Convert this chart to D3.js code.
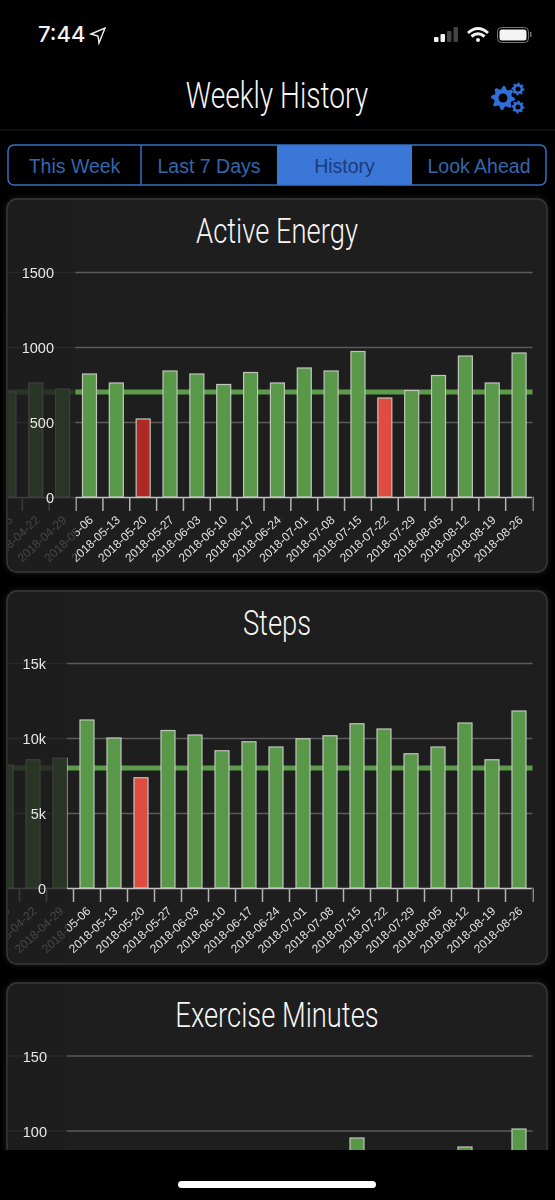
<!DOCTYPE html>
<html>
<head>
<meta charset="utf-8">
<title>Weekly History</title>
<script src="https://cdn.jsdelivr.net/npm/d3@7"></script>
<style>
  html, body { margin: 0; padding: 0; background: #000; }
  svg { display: block; }
  text { font-family: "Liberation Sans", sans-serif; }
  .narrow { font-family: Roboto, sans-serif; font-weight: 300; fill: #f6f6f6; text-anchor: middle; }
  .seg { font-size: 19.5px; text-anchor: middle; fill: #3467ad; }
</style>
</head>
<body>
<svg id="screen" width="555" height="1200"></svg>
<script>
// data
var weeks = ['2018-04-15', '2018-04-22', '2018-04-29', '2018-05-06', '2018-05-13', '2018-05-20', '2018-05-27',
  '2018-06-03', '2018-06-10', '2018-06-17', '2018-06-24', '2018-07-01', '2018-07-08', '2018-07-15',
  '2018-07-22', '2018-07-29', '2018-08-05', '2018-08-12', '2018-08-19', '2018-08-26'];
var energyValues = [700, 760, 720, 820, 760, 520, 840, 820, 750, 830, 760, 860, 840, 970, 660, 710, 810, 940, 760, 960];
var stepsValues = [8200, 8550, 8650, 11200, 10000, 7350, 10500, 10200, 9150, 9750, 9400, 9950, 10150, 10950, 10600, 8950, 9400, 11000, 8550, 11800];
// only the last weeks are readable above the screen edge, the others are estimates
var exerciseValues = [50, 55, 60, 70, 60, 40, 65, 60, 55, 70, 60, 75, 70, 95, 50, 65, 75, 89, 70, 101];
var energyTicks = [0, 500, 1000, 1500];
var stepsTicks = [0, 5000, 10000, 15000];
var exerciseTicks = [0, 50, 100, 150];
var segments = ['This Week', 'Last 7 Days', 'History', 'Look Ahead'];

var svg = d3.select('#screen');
var kFormat = function(d) { return d === 0 ? '0' : (d / 1000) + 'k'; };

var defs = svg.append('defs');
defs.append('filter').attr('id', 'glow').attr('x', '-5%').attr('y', '-5%').attr('width', '110%').attr('height', '110%')
  .append('feGaussianBlur').attr('stdDeviation', 3);

// the condensed titles: squeeze a light face sideways
var condensedTitle = function(parent, label, cx, baseline, size) {
  return parent.append('text').attr('class', 'narrow')
    .attr('transform', 'translate(' + cx + ',' + baseline + ') scale(0.76,1)')
    .attr('font-size', size).text(label);
};

var drawPanel = function(o) {
  var panelLeft = 7, panelRight = 547, panelHeight = 373;
  var g = svg.append('g').attr('transform', 'translate(0,' + o.top + ')');

  g.append('rect').attr('x', panelLeft - 1).attr('y', -1).attr('width', panelRight - panelLeft + 2)
    .attr('height', panelHeight + 2).attr('rx', 11).attr('fill', '#3c3c3c').attr('filter', 'url(#glow)').attr('opacity', 0.5);
  g.append('rect').attr('x', panelLeft).attr('y', 0).attr('width', panelRight - panelLeft).attr('height', panelHeight)
    .attr('rx', 10).attr('fill', '#1e1e1e').attr('stroke', '#383838').attr('stroke-width', 1.5);

  condensedTitle(g, o.title, 277, 44, 36);

  var clipId = 'clip' + o.top;
  defs.append('clipPath').attr('id', clipId).append('rect')
    .attr('x', panelLeft + 1).attr('y', 1).attr('rx', 9).attr('width', panelRight - panelLeft - 2).attr('height', panelHeight - 2);
  var plot = g.append('g').attr('clip-path', 'url(#' + clipId + ')').attr('opacity', 0.995);

  var right = 532.5;
  var x = d3.scaleBand().domain(weeks).range([right - weeks.length * o.step, right]);
  var y = d3.scaleLinear().domain([0, 1500 * o.unit]).range([o.zero, o.zero - 225]);
  var barWidth = 14;

  var grid = plot.append('g').attr('transform', 'translate(' + right + ',0)')
    .call(d3.axisLeft(y).tickValues(o.ticks.slice(1)).tickSize(right - x.range()[0]).tickFormat(''));
  grid.select('.domain').remove();
  grid.selectAll('line').attr('stroke', '#5c5c5c').attr('stroke-width', 1.5);

  plot.append('line').attr('x1', x.range()[0]).attr('x2', right)
    .attr('y1', y(o.target)).attr('y2', y(o.target))
    .attr('stroke', '#5c9c4a').attr('stroke-width', 5);

  plot.selectAll('.bar').data(o.values).enter().append('rect')
    .attr('class', 'bar')
    .attr('x', function(d, i) { return x(weeks[i]) + (x.bandwidth() - barWidth) / 2; })
    .attr('y', function(d) { return y(d); })
    .attr('width', barWidth)
    .attr('height', function(d) { return y(0) - y(d); })
    .attr('fill', function(d) {
      if (d >= o.target) return '#5a9a4a';
      return d < o.target * 0.75 ? '#b02a24' : '#e04e40';
    })
    .attr('stroke', '#c2c8be').attr('stroke-width', 1.2);

  var xAxis = plot.append('g').attr('transform', 'translate(0,' + y(0) + ')')
    .call(d3.axisBottom(x).tickSizeOuter(0).tickSize(14));
  xAxis.select('.domain').attr('stroke', '#c8c8c8').attr('stroke-width', 1.5);
  xAxis.selectAll('.tick line')
    .attr('x1', -o.step / 2).attr('x2', -o.step / 2)
    .attr('stroke', '#b4b4b4').attr('stroke-width', 1.5);
  xAxis.selectAll('.tick text')
    .attr('font-size', 12).attr('fill', '#e2e2e2').attr('text-anchor', 'end')
    .attr('x', 0).attr('y', 0).attr('dy', 0)
    .attr('transform', 'translate(4.5,24) rotate(-43)');
  plot.append('line').attr('x1', right).attr('x2', right).attr('y1', y(0)).attr('y2', y(0) + 14)
    .attr('stroke', '#4a4a4a').attr('stroke-width', 1.5);

  // weeks scrolled under the y axis are dimmed
  plot.append('rect').attr('x', panelLeft).attr('y', 0).attr('width', o.edge - panelLeft).attr('height', panelHeight)
    .attr('fill', '#1e1e1e').attr('opacity', 0.8);

  var yAxis = g.append('g').attr('transform', 'translate(' + o.labelRight + ',0)')
    .call(d3.axisLeft(y).tickValues(o.ticks).tickSize(0).tickPadding(0).tickFormat(o.format));
  yAxis.select('.domain').remove();
  yAxis.selectAll('text').attr('font-size', 14.5).attr('fill', '#e6e6e6').attr('dy', '0.38em');
};

drawPanel({ top: 199, title: 'Active Energy', values: energyValues, ticks: energyTicks, target: 700, unit: 1,
  zero: 298, step: 26.85, edge: 75.5, labelRight: 54, format: d3.format('d') });
drawPanel({ top: 591, title: 'Steps', values: stepsValues, ticks: stepsTicks, target: 8000, unit: 10,
  zero: 297, step: 27, edge: 67, labelRight: 46, format: kFormat });
drawPanel({ top: 983, title: 'Exercise Minutes', values: exerciseValues, ticks: exerciseTicks, target: 30, unit: 0.1,
  zero: 297.5, step: 27, edge: 67, labelRight: 47, format: d3.format('d') });

// top bar
svg.append('rect').attr('width', 555).attr('height', 192).attr('fill', '#000');
svg.append('rect').attr('y', 1150).attr('width', 555).attr('height', 50).attr('fill', '#000');
svg.append('rect').attr('x', 178).attr('y', 1181).attr('width', 198).attr('height', 7).attr('rx', 3.5).attr('fill', '#fff');

svg.append('text').attr('x', 38).attr('y', 42).attr('font-size', 22).attr('fill', '#f2f2f2')
  .style('font-family', 'Inter, sans-serif').attr('font-weight', 500).text('7:44');
svg.append('path').attr('d', 'M91 34 L105 28 L99 43 L98 36 Z').attr('fill', 'none').attr('stroke', '#eee').attr('stroke-width', 1.4);

var signal = svg.append('g');
[5, 8, 11, 15].forEach(function(h, i) {
  signal.append('rect').attr('x', 434 + i * 6.5).attr('y', 42 - h).attr('width', 4.5).attr('height', h)
    .attr('rx', 1).attr('fill', i < 2 ? '#f2f2f2' : '#444');
});
svg.append('path')
  .attr('d', 'M468 33 Q478 24 488 33 M471.5 36.5 Q478 31 484.5 36.5')
  .attr('fill', 'none').attr('stroke', '#f2f2f2').attr('stroke-width', 3);
svg.append('circle').attr('cx', 478).attr('cy', 40).attr('r', 2).attr('fill', '#f2f2f2');
svg.append('rect').attr('x', 497.5).attr('y', 27.5).attr('width', 31).attr('height', 15).attr('rx', 4)
  .attr('fill', 'none').attr('stroke', '#777').attr('stroke-width', 1);
svg.append('rect').attr('x', 499.5).attr('y', 29.5).attr('width', 27).attr('height', 11).attr('rx', 2.5).attr('fill', '#f4f4f4');
svg.append('rect').attr('x', 530).attr('y', 32).attr('width', 1.5).attr('height', 5).attr('fill', '#777');

condensedTitle(svg, 'Weekly History', 277, 108, 37);
svg.append('line').attr('x1', 0).attr('x2', 555).attr('y1', 130).attr('y2', 130).attr('stroke', '#1c1c1c');

// settings icon
var gearPath = function(cx, cy, outer, inner, teeth) {
  var pts = [];
  for (var i = 0; i < teeth * 4; i++) {
    var r = (i % 4 < 2) ? outer : inner;
    var a = (i / (teeth * 4)) * 2 * Math.PI;
    pts.push([cx + r * Math.cos(a), cy + r * Math.sin(a)]);
  }
  return 'M' + pts.join('L') + 'Z';
};
[[503, 98, 12, 9, 8, 4.5], [518, 89, 6.5, 5, 8, 2.5], [518, 107, 6.5, 5, 8, 2.5]].forEach(function(g) {
  svg.append('path').attr('d', gearPath(g[0], g[1], g[2], g[3], g[4])).attr('fill', '#2f6fdc');
  svg.append('circle').attr('cx', g[0]).attr('cy', g[1]).attr('r', g[5]).attr('fill', '#000');
});

// segmented control
var segEdges = [8, 141, 277, 412, 546];
svg.append('rect').attr('x', 277).attr('y', 145).attr('width', 135).attr('height', 40).attr('fill', '#3a77d6');
svg.append('rect').attr('x', 8).attr('y', 145).attr('width', 538).attr('height', 40).attr('rx', 6)
  .attr('fill', 'none').attr('stroke', '#3470c4').attr('stroke-width', 1.5);
svg.append('line').attr('x1', 141).attr('x2', 141).attr('y1', 145).attr('y2', 185).attr('stroke', '#3470c4').attr('stroke-width', 1.5);
svg.selectAll('.seg').data(segments).enter().append('text')
  .attr('class', 'seg')
  .attr('x', function(d, i) { return (segEdges[i] + segEdges[i + 1]) / 2; })
  .attr('y', 173)
  .style('fill', function(d) { return d === 'History' ? '#1c3c7c' : null; })
  .text(function(d) { return d; });
</script>
</body>
</html>
